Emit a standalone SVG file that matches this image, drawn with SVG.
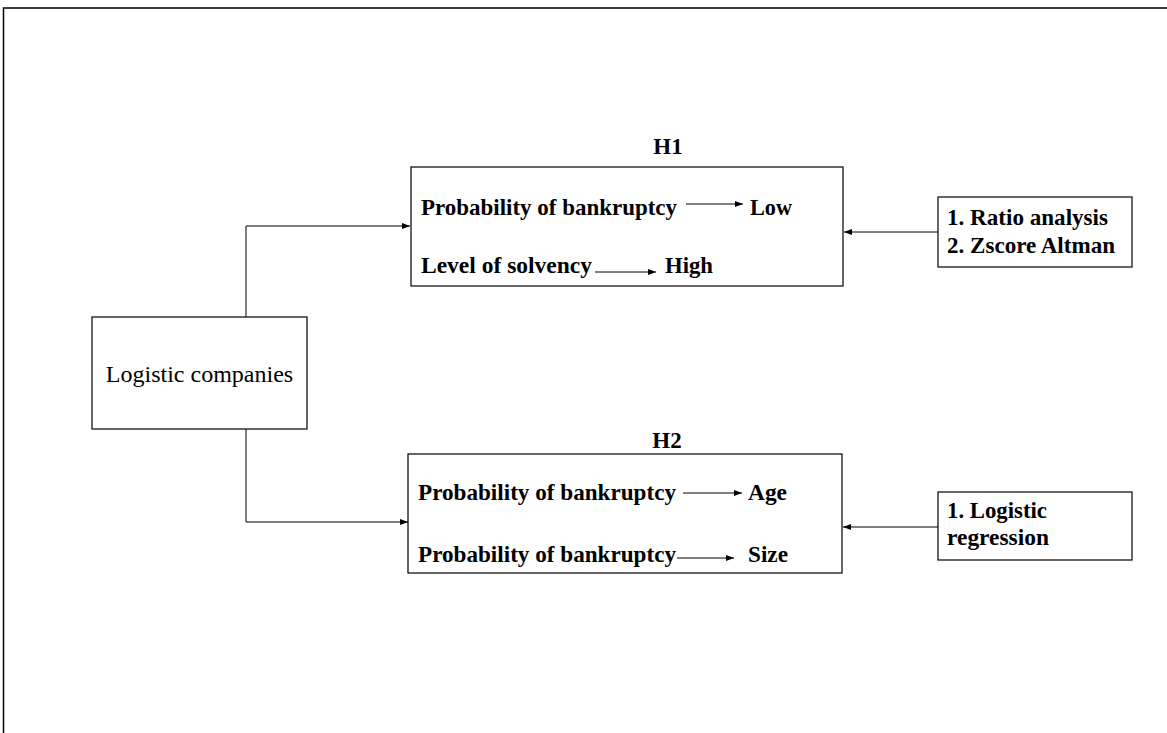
<svg xmlns="http://www.w3.org/2000/svg" width="1167" height="733" viewBox="0 0 1167 733">
<style>
.box{fill:#fff;stroke:#000;stroke-width:1.2}
.b{font-family:"Liberation Serif","Times New Roman",serif;font-weight:bold;font-size:23px;fill:#000}
.r{font-family:"Liberation Serif","Times New Roman",serif;font-size:24px;fill:#000}
.ln{fill:none;stroke:#000;stroke-width:1}
</style>
<defs>
<marker id="ah" viewBox="0 0 8 6" refX="8" refY="3" markerWidth="8" markerHeight="6" markerUnits="userSpaceOnUse" orient="auto">
<path d="M0,0 L8,3 L0,6 Z" fill="#000"/>
</marker>
</defs>
<rect x="3.5" y="8" width="1200" height="800" fill="none" stroke="#000" stroke-width="1.5"/>
<g id="logistic">
<rect class="box" x="92" y="317" width="215" height="112"/>
<text class="r" x="199.5" y="382" text-anchor="middle">Logistic companies</text>
</g>
<g id="h1">
<text class="b" x="668" y="154" text-anchor="middle">H1</text>
<rect class="box" x="411" y="167" width="432" height="119"/>
<text class="b" x="421" y="215" textLength="256" lengthAdjust="spacingAndGlyphs">Probability of bankruptcy</text>
<line class="ln" x1="686" y1="204" x2="743" y2="204" marker-end="url(#ah)"/>
<text class="b" x="750" y="215" textLength="42" lengthAdjust="spacingAndGlyphs">Low</text>
<text class="b" x="421" y="273" textLength="171" lengthAdjust="spacingAndGlyphs">Level of solvency</text>
<line class="ln" x1="595" y1="272" x2="656" y2="272" marker-end="url(#ah)"/>
<text class="b" x="665" y="273" textLength="48" lengthAdjust="spacingAndGlyphs">High</text>
</g>
<g id="h2">
<text class="b" x="667" y="448" text-anchor="middle">H2</text>
<rect class="box" x="408" y="454" width="434" height="119"/>
<text class="b" x="418" y="500" textLength="258" lengthAdjust="spacingAndGlyphs">Probability of bankruptcy</text>
<line class="ln" x1="683" y1="493" x2="742" y2="493" marker-end="url(#ah)"/>
<text class="b" x="748" y="500" textLength="39" lengthAdjust="spacingAndGlyphs">Age</text>
<text class="b" x="418" y="562" textLength="258" lengthAdjust="spacingAndGlyphs">Probability of bankruptcy</text>
<line class="ln" x1="677" y1="558" x2="734" y2="558" marker-end="url(#ah)"/>
<text class="b" x="748" y="562" textLength="40" lengthAdjust="spacingAndGlyphs">Size</text>
</g>
<g id="methods1">
<rect class="box" x="938" y="197" width="194" height="70"/>
<text class="b" x="947" y="225" textLength="161" lengthAdjust="spacingAndGlyphs">1. Ratio analysis</text>
<text class="b" x="947" y="253" textLength="168" lengthAdjust="spacingAndGlyphs">2. Zscore Altman</text>
</g>
<g id="methods2">
<rect class="box" x="938" y="492" width="194" height="68"/>
<text class="b" x="947" y="518" textLength="100" lengthAdjust="spacingAndGlyphs">1. Logistic</text>
<text class="b" x="947" y="545" textLength="102" lengthAdjust="spacingAndGlyphs">regression</text>
</g>
<g id="connectors">
<polyline class="ln" points="246,317 246,226 410,226" marker-end="url(#ah)"/>
<polyline class="ln" points="246,429 246,522 408,522" marker-end="url(#ah)"/>
<line class="ln" x1="938" y1="232" x2="844" y2="232" marker-end="url(#ah)"/>
<line class="ln" x1="938" y1="527" x2="843" y2="527" marker-end="url(#ah)"/>
</g>
</svg>
